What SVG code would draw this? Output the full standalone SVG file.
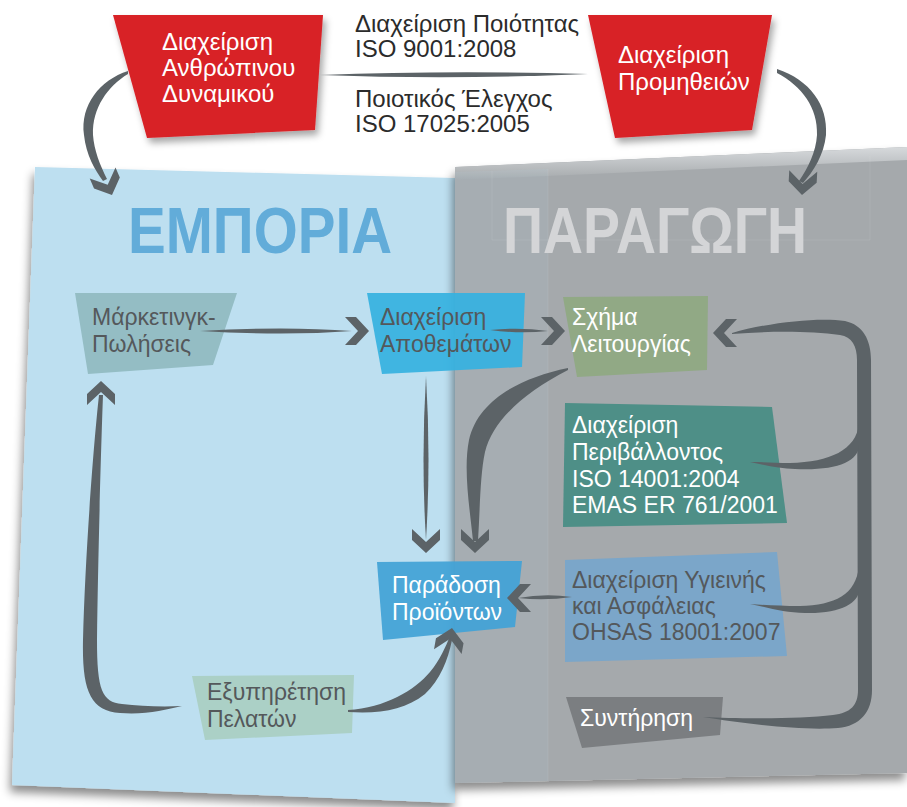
<svg xmlns="http://www.w3.org/2000/svg" width="907" height="807" viewBox="0 0 907 807">
<defs>
<filter id="sh" x="-10%" y="-10%" width="120%" height="125%"><feDropShadow dx="-2" dy="7" stdDeviation="5" flood-color="#000" flood-opacity="0.45"/></filter>
<filter id="shr" x="-10%" y="-10%" width="125%" height="130%"><feDropShadow dx="3" dy="5" stdDeviation="3.5" flood-color="#000" flood-opacity="0.35"/></filter>
<linearGradient id="gtop" x1="0" y1="0" x2="0" y2="1"><stop offset="0" stop-color="#d7dadc"/><stop offset="1" stop-color="#a5a9ac"/></linearGradient>
<polygon id="chev" points="-24,-14 -13,-14 0,0 -13,14 -24,14 -11,0"/>
<style>
text{font-family:"Liberation Sans",Arial,sans-serif;}
.t{font-size:23px;}
.top{font-size:24px;fill:#2b2b2b;}
.w{fill:#ffffff;}
.d{fill:#54585b;}
.red{fill:#d82027;}
.con{fill:#5c6367;}
.title{font-weight:bold;font-size:64px;}
.guide{stroke:#ffffff;stroke-opacity:0.08;stroke-width:1;fill:none;}
</style>
</defs>
<rect width="907" height="807" fill="#ffffff"/>

<g id="panels">
<polygon points="35,167 455,178 455,803 12,785" fill="#bddff0" filter="url(#sh)"/>
<polygon points="455,167 907,147 907,773 455,783" fill="#a5a9ac" filter="url(#sh)"/>
<polygon points="455,167 907,147 907,160 455,180" fill="url(#gtop)"/>
<polygon points="455,172 548,169 548,781 455,783" fill="#b6dcf0" fill-opacity="0.09"/>
<path class="guide" d="M548,169 V781 M492,171 V240 H870 V156"/>
<text class="title" x="128" y="253" fill="#62acd9" textLength="264" lengthAdjust="spacingAndGlyphs">ΕΜΠΟΡΙΑ</text>
<text class="title" x="503" y="253" fill="#d4d5d7" textLength="304" lengthAdjust="spacingAndGlyphs">ΠΑΡΑΓΩΓΗ</text>
</g>

<g id="quality-labels">
<text class="top" x="355" y="32">Διαχείριση Ποιότητας</text>
<text class="top" x="355" y="57">ISO 9001:2008</text>
<text class="top" x="355" y="107">Ποιοτικός Έλεγχος</text>
<text class="top" x="355" y="132">ISO 17025:2005</text>
</g>

<g id="node-hr">
<polygon class="red" points="113,15 323,15 315,130 147,138" filter="url(#shr)"/>
<text class="top w" x="162" y="50">Διαχείριση</text>
<text class="top w" x="162" y="76">Ανθρώπινου</text>
<text class="top w" x="162" y="102">Δυναμικού</text>
</g>

<g id="node-supply">
<polygon class="red" points="588,15 772,15 752,130 615,138" filter="url(#shr)"/>
<text class="top w" x="618" y="63">Διαχείριση</text>
<text class="top w" x="618" y="90">Προμηθειών</text>
</g>

<g id="node-marketing">
<polygon points="75,293 237,293 213,365 88,374" fill="#94bdc4"/>
<text class="t d" x="92" y="325">Μάρκετινγκ-</text>
<text class="t d" x="92" y="352">Πωλήσεις</text>
</g>

<g id="node-inventory">
<polygon points="367,293 525,293 522,367 382,374" fill="#36b2e0" fill-opacity="0.93"/>
<text class="t d" x="380" y="325">Διαχείριση</text>
<text class="t d" x="380" y="352">Αποθεμάτων</text>
</g>

<g id="node-operation">
<polygon points="563,297 708,296 707,370 577,377" fill="#91a985"/>
<text class="t w" x="572" y="325">Σχήμα</text>
<text class="t w" x="572" y="352">Λειτουργίας</text>
</g>

<g id="node-environment">
<polygon points="565,403 772,407 787,523 563,527" fill="#4e8f87"/>
<text class="t w" x="572" y="433">Διαχείριση</text>
<text class="t w" x="572" y="460">Περιβάλλοντος</text>
<text class="t w" x="572" y="487">ISO 14001:2004</text>
<text class="t w" x="572" y="513">EMAS ER 761/2001</text>
</g>

<g id="node-health">
<polygon points="565,560 777,552 787,656 565,662" fill="#7ba6c9"/>
<text class="t d" x="572" y="588">Διαχείριση Υγιεινής</text>
<text class="t d" x="572" y="614">και Ασφάλειας</text>
<text class="t d" x="572" y="640">OHSAS 18001:2007</text>
</g>

<g id="node-delivery">
<polygon points="377,562 522,561 515,627 383,640" fill="#42a3d6" fill-opacity="0.93"/>
<text class="t w" x="392" y="593">Παράδοση</text>
<text class="t w" x="392" y="620">Προϊόντων</text>
</g>

<g id="node-customer">
<polygon points="192,676 354,675 352,733 205,740" fill="#abd0c6"/>
<text class="t d" x="207" y="700">Εξυπηρέτηση</text>
<text class="t d" x="207" y="727">Πελατών</text>
</g>

<g id="node-maintenance">
<polygon points="566,697 723,697 720,735 582,748" fill="#7b7e81"/>
<text class="t w" x="580" y="726">Συντήρηση</text>
</g>

<g id="connectors" class="con">
<path d="M320,75 Q450,70 588,74 Q450,80 320,75 Z"/>
<path d="M128,71 C100,80 80,105 84,135 C86,155 95,170 103,181 L107,179 C100,165 94,150 93,135 C92,108 108,86 128,74 Z"/>
<use href="#chev" transform="translate(112,195) rotate(67)"/>
<path d="M777,69 C810,80 828,105 826,135 C824,155 813,172 803,183 L799,181 C808,168 816,152 817,135 C818,108 802,86 777,73 Z"/>
<use href="#chev" transform="translate(802,195) rotate(93)"/>
<path d="M200,331 Q285,326 352,331 Q285,336 200,331 Z"/>
<use href="#chev" transform="translate(369,331)"/>
<path d="M490,330 Q520,327 548,331 Q520,334 490,330 Z"/>
<use href="#chev" transform="translate(565,331)"/>
<path d="M426,376 Q421,460 426,540 Q431,460 426,376 Z"/>
<use href="#chev" transform="translate(426,553) rotate(90)"/>
<path d="M568,368 C520,378 478,400 469,440 C463,470 470,510 473,541 L478,541 C480,510 480,475 485,452 C493,420 525,392 568,370 Z"/>
<use href="#chev" transform="translate(475,553) rotate(90)"/>
<path d="M572,597 Q545,593 518,598 Q545,601 572,597 Z"/>
<use href="#chev" transform="translate(507,598) rotate(180)"/>
<path d="M732,333 C770,322 820,317 845,321 C863,325 871,340 871,360 L872,690 C872,712 860,726 838,728 C800,731 740,723 703,717 C740,719 800,719 833,715 C851,713 858,705 858,690 L857,360 C857,346 852,337 840,335 C810,331 770,331 732,334 Z"/>
<use href="#chev" transform="translate(713,333) rotate(180)"/>
<path d="M859,424 C856,450 830,462 790,463 C775,463 762,462 750,462 C765,465 780,469 795,469 C835,471 859,462 859,445 Z"/>
<path d="M859,566 C856,595 835,605 800,606 C780,606 765,605 750,604 C770,608 785,613 805,613 C840,614 859,603 859,590 Z"/>
<path d="M348,710 C385,708 415,690 430,672 C440,660 446,646 450,636 L452,640 C448,660 440,680 425,694 C405,710 380,714 348,712 Z"/>
<use href="#chev" transform="translate(452,628) rotate(-80)"/>
<path d="M99,395 C93,450 85,560 83,640 C82,690 90,711 120,713 C145,715 165,710 182,706 C160,707 140,706 122,704 C102,702 97,690 97,640 C98,560 101,450 103,395 Z"/>
<use href="#chev" transform="translate(101,381) rotate(-90)"/>
</g>
</svg>
